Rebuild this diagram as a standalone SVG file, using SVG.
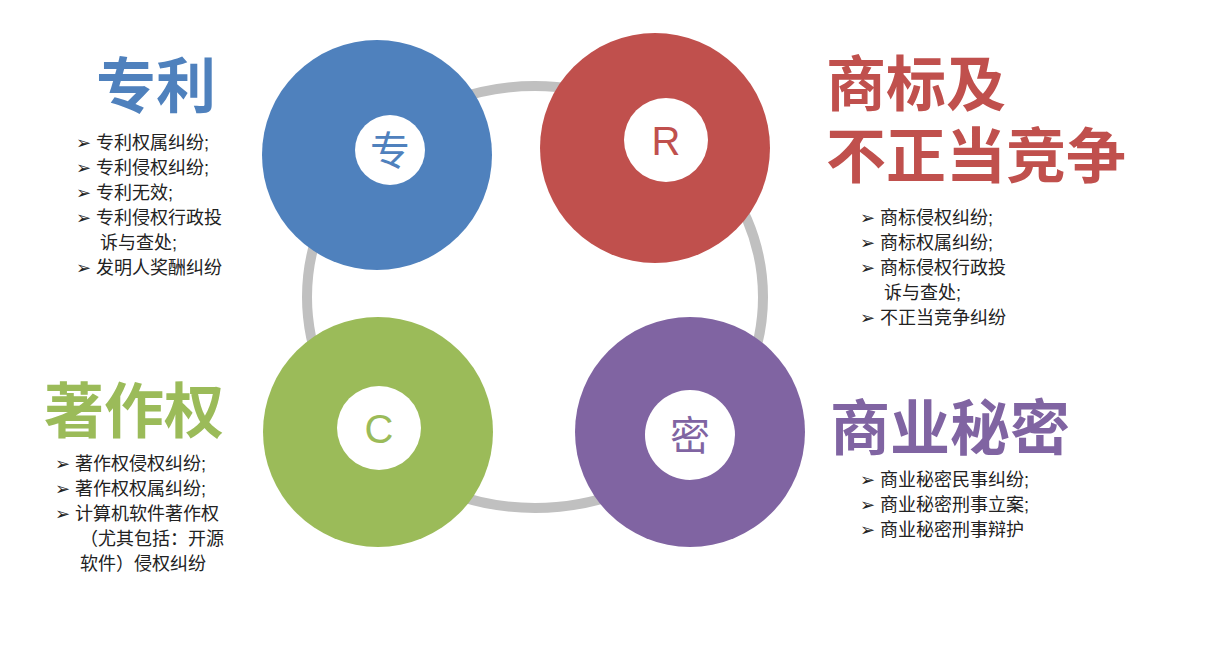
<svg xmlns="http://www.w3.org/2000/svg" width="1210" height="661" viewBox="0 0 1210 661">
<style>
.t{font-family:"Liberation Sans","Noto Sans CJK SC",sans-serif;font-weight:bold;font-size:60px}
.b{font-family:"Liberation Sans","Noto Sans CJK SC",sans-serif;font-size:18px;fill:#222}
.c{font-family:"Liberation Sans","Noto Sans CJK SC",sans-serif;font-size:40px;text-anchor:middle}
.w{fill:#fff}
</style>
<rect width="1210" height="661" fill="#fff"/>
<g id="connectors"><ellipse cx="535" cy="297" rx="228" ry="211" fill="none" stroke="#c0c0c0" stroke-width="10"/></g>
<g id="patent">
<circle cx="377" cy="155" r="115" fill="#4f81bd"/><circle class="w" cx="390" cy="150" r="35"/>
<text class="c" x="390" y="165" fill="#4f81bd">专</text>
<text class="t" x="96" y="108" fill="#4f81bd">专利</text>
<text class="b"><tspan x="76" y="149">➢ 专利权属纠纷;</tspan><tspan x="76" y="174">➢ 专利侵权纠纷;</tspan><tspan x="76" y="199">➢ 专利无效;</tspan><tspan x="76" y="224">➢ 专利侵权行政投</tspan><tspan x="100" y="249">诉与查处;</tspan><tspan x="76" y="274">➢ 发明人奖酬纠纷</tspan></text>
</g>
<g id="trademark">
<circle cx="655" cy="148" r="115" fill="#c0504d"/><circle class="w" cx="666" cy="140" r="42"/>
<text class="c" x="666" y="155" fill="#c0504d">R</text>
<text class="t" x="826" y="106" fill="#c0504d">商标及</text>
<text class="t" x="826" y="178" fill="#c0504d">不正当竞争</text>
<text class="b"><tspan x="860" y="224">➢ 商标侵权纠纷;</tspan><tspan x="860" y="249">➢ 商标权属纠纷;</tspan><tspan x="860" y="274">➢ 商标侵权行政投</tspan><tspan x="884" y="299">诉与查处;</tspan><tspan x="860" y="324">➢ 不正当竞争纠纷</tspan></text>
</g>
<g id="copyright">
<circle cx="378" cy="432" r="115" fill="#9bbb59"/><circle class="w" cx="379" cy="428" r="42"/>
<text class="c" x="379" y="443" fill="#9bbb59">C</text>
<text class="t" x="44" y="433" fill="#9bbb59">著作权</text>
<text class="b"><tspan x="55" y="470">➢ 著作权侵权纠纷;</tspan><tspan x="55" y="495">➢ 著作权权属纠纷;</tspan><tspan x="55" y="520">➢ 计算机软件著作权</tspan><tspan x="80" y="545">（尤其包括：开源</tspan><tspan x="80" y="570">软件）侵权纠纷</tspan></text>
</g>
<g id="secret">
<circle cx="690" cy="432" r="115" fill="#8064a2"/><circle class="w" cx="690" cy="435" r="45"/>
<text class="c" x="690" y="450" fill="#8064a2">密</text>
<text class="t" x="830" y="450" fill="#8064a2">商业秘密</text>
<text class="b"><tspan x="860" y="486">➢ 商业秘密民事纠纷;</tspan><tspan x="860" y="511">➢ 商业秘密刑事立案;</tspan><tspan x="860" y="536">➢ 商业秘密刑事辩护</tspan></text>
</g>
</svg>
